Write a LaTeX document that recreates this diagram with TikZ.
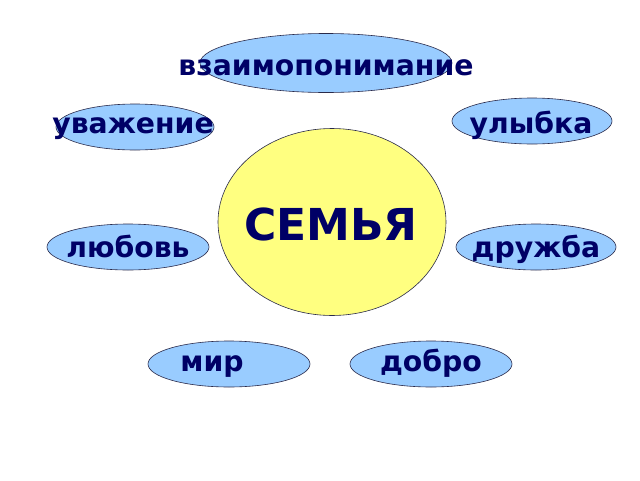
\documentclass[tikz,border=0pt]{standalone}
\usepackage{fontspec}
\setmainfont{DejaVu Sans}
\usetikzlibrary{shapes.geometric}
\definecolor{ovalblue}{HTML}{99CCFF}
\definecolor{ovalyellow}{HTML}{FFFF80}
\definecolor{navy}{HTML}{000066}
\definecolor{edge}{HTML}{2A2A4A}
\tikzset{
  oval/.style={ellipse, draw=edge, line width=0.6pt, fill=ovalblue, inner sep=0pt},
  word/.style={text=navy, font=\fontsize{28.3}{28}\selectfont\bfseries, inner sep=0pt, anchor=base},
}
\begin{document}
\begin{tikzpicture}[x=1pt,y=-1pt]
\useasboundingbox (0,0) rectangle (640,480);
% ovals
\node[oval, minimum width=252pt, minimum height=59pt] (o1) at (326,63) {};
\node[oval, minimum width=158pt, minimum height=46pt] (o2) at (135,127) {};
\node[oval, minimum width=160pt, minimum height=46pt] (o3) at (532,121) {};
\node[ellipse, draw=edge, line width=0.6pt, fill=ovalyellow, minimum width=228pt, minimum height=187pt, inner sep=0pt] (c) at (332,222) {};
\node[oval, minimum width=162pt, minimum height=46pt] (o4) at (128,247) {};
\node[oval, minimum width=160pt, minimum height=46pt] (o5) at (536,247) {};
\node[oval, minimum width=162pt, minimum height=46pt] (o6) at (229,364) {};
\node[oval, minimum width=162pt, minimum height=46pt] (o7) at (431,364) {};
% texts
\node[word] (t1) at (326,75) {взаимопонимание};
\node[word] (t2) at (133,133) {уважение};
\node[word] (t3) at (531,133) {улыбка};
\node[word, font=\fontsize{44}{44}\selectfont\bfseries] (tc) at (331,240) {СЕМЬЯ};
\node[word] (t4) at (128,257) {любовь};
\node[word] (t5) at (536,257) {дружба};
\node[word] (t6) at (212,371) {мир};
\node[word] (t7) at (431,371) {добро};
\end{tikzpicture}
\end{document}
